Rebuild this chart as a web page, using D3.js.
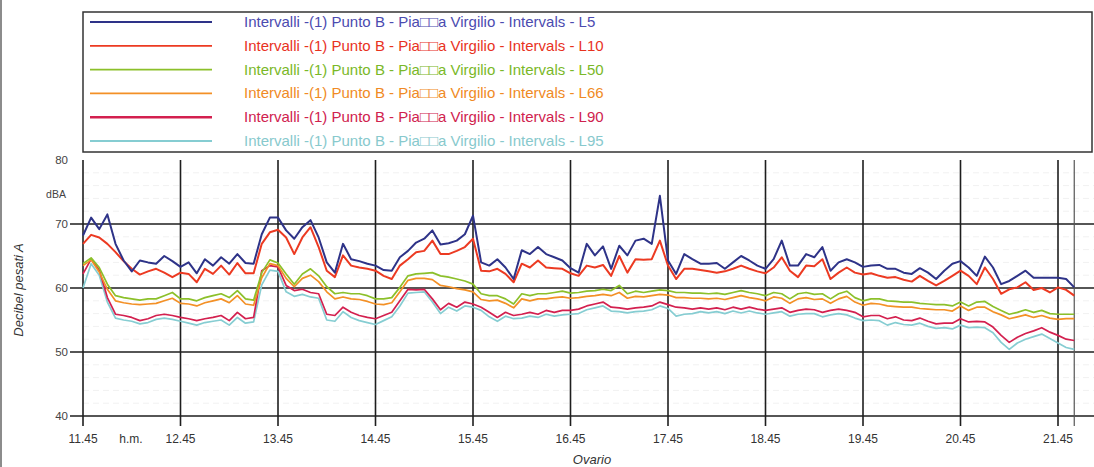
<!DOCTYPE html>
<html>
<head>
<meta charset="utf-8">
<script src="https://cdn.jsdelivr.net/npm/d3@7"></script>
<style>
  body { margin: 0; background: #fff; }
  svg { display: block; font-family: "Liberation Sans", Arial, sans-serif; }
</style>
</head>
<body>
<div id="chart"></div>
<script>
// Intervalli 5 minuti, Punto B - Piazza Virgilio
const startTime = "11.45";
const stepMinutes = 5;

const hourLabels = ["11.45", "12.45", "13.45", "14.45", "15.45", "16.45", "17.45", "18.45", "19.45", "20.45", "21.45"];
const yTicks = [40, 50, 60, 70, 80];

const seriesNames = ["L5", "L10", "L50", "L66", "L90", "L95"];
const seriesColors = ["#2e3388", "#ec3a22", "#8cc02a", "#f39026", "#d3204f", "#86cdd2"];
const textColors = ["#4b4bb0", "#e8321e", "#7ab828", "#f08a24", "#d0224e", "#88c9cd"];

const L5 = [68.2, 71.0, 69.2, 71.5, 66.9, 64.3, 62.6, 64.3, 64.0, 63.8, 65.0, 64.2, 63.3, 64.0, 62.3, 64.5, 63.5, 64.8, 63.8, 65.3, 63.9, 63.8, 68.4, 71.0, 71.0, 69.0, 67.7, 69.5, 70.6, 67.9, 64.0,
  62.4, 66.9, 64.5, 64.2, 63.8, 63.5, 62.8, 62.7, 64.8, 65.8, 67.1, 67.7, 69.0, 66.8, 67.0, 67.4, 68.4, 71.3, 64.0, 63.5, 64.5, 63.2, 61.4, 65.9, 65.3, 66.4, 65.3, 64.8, 64.3, 63.1,
  62.4, 66.9, 65.1, 66.5, 63.0, 66.6, 65.1, 67.4, 67.7, 66.9, 74.4, 64.3, 62.2, 65.3, 64.5, 63.8, 63.8, 63.9, 63.0, 64.0, 65.0, 64.3, 63.5, 63.0, 64.5, 67.4, 63.5, 63.5, 65.3, 64.8,
  66.4, 62.7, 64.0, 64.5, 64.0, 63.3, 63.5, 63.6, 63.0, 63.0, 62.4, 62.2, 63.1, 62.4, 61.4, 62.7, 63.8, 64.2, 63.2, 61.9, 64.9, 63.2, 60.6, 61.1, 61.9, 62.7, 61.6, 61.6, 61.6, 61.6, 61.4, 60.1];

const L10 = [66.9, 68.3, 67.9, 66.9, 65.6, 64.2, 63.0, 62.1, 62.6, 63.0, 62.4, 61.7, 62.4, 62.2, 60.9, 63.0, 62.2, 63.5, 62.1, 63.9, 62.3, 62.3, 66.9, 68.7, 69.1, 67.9, 65.3, 67.9, 69.5, 66.4, 62.7,
  61.7, 65.1, 63.5, 63.2, 63.0, 62.7, 61.9, 61.4, 63.5, 64.5, 65.6, 65.8, 67.4, 65.3, 65.3, 65.8, 66.4, 67.7, 62.7, 62.6, 63.0, 62.2, 60.9, 63.8, 63.2, 64.3, 63.2, 63.1, 63.0, 62.3,
  61.9, 63.5, 63.2, 63.6, 61.9, 65.0, 62.4, 64.5, 64.4, 64.5, 67.4, 63.5, 61.4, 63.0, 63.0, 62.8, 62.6, 62.4, 62.6, 63.0, 63.5, 63.0, 62.6, 62.3, 63.2, 64.8, 62.7, 61.7, 63.5, 63.4,
  64.5, 61.4, 62.4, 63.2, 62.4, 62.1, 62.3, 61.9, 61.6, 61.7, 61.3, 61.0, 61.9, 61.1, 60.4, 61.1, 61.9, 62.7, 61.9, 60.6, 63.2, 61.4, 59.1, 59.8, 60.1, 60.9, 59.7, 60.0, 59.3, 60.1, 59.7, 58.8];

const L50 = [63.8, 64.7, 63.2, 60.6, 58.8, 58.5, 58.3, 58.1, 58.3, 58.3, 58.8, 59.3, 58.3, 58.3, 58.0, 58.5, 58.8, 59.1, 58.5, 59.6, 58.3, 58.1, 62.4, 64.4, 63.9, 62.2, 60.6, 62.2, 63.0, 61.9, 60.2,
  59.1, 59.3, 59.1, 59.1, 58.8, 58.3, 58.3, 58.5, 60.1, 61.9, 62.2, 62.3, 62.4, 61.9, 61.7, 61.4, 61.1, 60.6, 59.1, 58.8, 58.8, 58.3, 57.5, 59.1, 58.8, 59.1, 59.1, 59.3, 59.5, 59.2,
  59.3, 59.5, 59.6, 59.8, 59.6, 60.4, 59.1, 59.5, 59.3, 59.5, 59.7, 59.6, 59.3, 59.3, 59.2, 59.2, 59.1, 59.2, 59.0, 59.3, 59.6, 59.3, 59.1, 58.8, 59.3, 59.1, 58.3, 59.1, 59.3, 59.0,
  59.1, 58.3, 59.1, 59.5, 58.5, 58.0, 58.3, 58.3, 58.0, 57.9, 57.8, 57.8, 57.6, 57.5, 57.4, 57.4, 57.2, 57.8, 57.2, 57.8, 57.9, 57.1, 56.5, 55.9, 56.2, 56.6, 56.2, 56.5, 56.0, 55.9, 55.9, 55.9];

const L66 = [63.5, 64.4, 62.5, 59.8, 58.0, 57.7, 57.5, 57.4, 57.5, 57.6, 58.0, 58.4, 57.6, 57.5, 57.2, 57.7, 58.0, 58.3, 57.7, 58.8, 57.5, 57.3, 61.6, 63.8, 63.5, 61.5, 60.2, 61.5, 62.0, 61.0, 59.4,
  58.3, 58.6, 58.3, 58.2, 57.9, 57.5, 57.4, 57.7, 59.4, 61.2, 61.5, 61.5, 61.3, 60.4, 60.2, 59.9, 59.7, 59.4, 58.2, 58.0, 58.1, 57.6, 56.9, 58.3, 58.0, 58.3, 58.3, 58.5, 58.6, 58.4,
  58.5, 58.7, 58.8, 59.0, 58.8, 59.3, 58.4, 58.7, 58.6, 58.8, 59.0, 58.9, 58.5, 58.5, 58.4, 58.4, 58.3, 58.4, 58.2, 58.5, 58.8, 58.5, 58.3, 58.0, 58.6, 58.4, 57.6, 58.3, 58.5, 58.2,
  58.3, 57.6, 58.3, 58.7, 57.8, 57.3, 57.6, 57.5, 57.2, 57.1, 57.0, 57.0, 56.8, 56.7, 56.6, 56.6, 56.4, 57.2, 56.5, 57.0, 57.0, 56.3, 55.8, 55.2, 55.5, 55.8, 55.4, 55.7, 55.3, 55.1, 55.2, 55.2];

const L90 = [62.2, 64.5, 62.8, 58.5, 55.9, 55.7, 55.4, 54.9, 55.2, 55.7, 55.9, 55.7, 55.4, 55.2, 54.9, 55.2, 55.4, 55.7, 54.9, 56.2, 55.2, 55.4, 62.7, 63.5, 63.3, 60.4, 59.6, 59.8, 59.3, 59.1, 55.9,
  55.7, 57.0, 56.2, 55.7, 55.4, 55.2, 55.7, 56.2, 58.0, 59.8, 59.7, 59.8, 58.3, 56.6, 57.6, 57.0, 57.8, 57.5, 57.0, 56.2, 55.4, 56.2, 55.7, 55.9, 56.2, 55.9, 56.5, 56.2, 56.5, 56.5,
  56.7, 57.2, 57.5, 57.8, 57.0, 56.9, 56.7, 56.9, 57.0, 57.2, 57.8, 57.4, 57.0, 56.9, 56.7, 56.9, 56.7, 56.9, 56.6, 57.0, 56.7, 57.0, 56.7, 56.5, 56.7, 56.9, 56.2, 56.5, 56.7, 56.6,
  56.2, 56.5, 56.7, 56.5, 56.2, 55.5, 55.7, 55.7, 55.2, 55.5, 55.0, 54.9, 55.3, 54.8, 54.4, 54.5, 54.5, 55.2, 54.7, 54.8, 54.7, 53.9, 52.6, 51.5, 52.3, 52.9, 53.3, 53.8, 53.1, 52.6, 52.0, 51.8];

const L95 = [60.0, 63.8, 62.0, 57.8, 55.3, 55.0, 54.8, 54.4, 54.6, 55.1, 55.3, 55.1, 54.8, 54.5, 54.2, 54.6, 54.8, 55.0, 54.2, 55.4, 54.5, 54.7, 60.5, 62.8, 62.6, 59.4, 58.7, 59.0, 58.6, 58.4, 55.0,
  54.8, 56.3, 55.4, 54.9, 54.6, 54.3, 54.9, 55.5, 57.2, 59.2, 59.3, 59.4, 57.8, 56.0, 57.0, 56.4, 57.2, 57.0, 56.5, 55.5, 54.8, 55.6, 55.2, 55.3, 55.6, 55.4, 55.9, 55.6, 55.8, 55.9,
  56.0, 56.6, 56.9, 57.2, 56.4, 56.3, 56.1, 56.3, 56.4, 56.6, 57.2, 56.8, 55.6, 55.9, 56.0, 56.3, 56.1, 56.3, 56.0, 56.4, 56.1, 56.4, 56.1, 55.9, 56.1, 56.3, 55.6, 55.9, 56.0, 56.0,
  55.5, 55.8, 56.0, 55.8, 55.3, 54.9, 55.0, 54.9, 54.2, 54.6, 54.3, 54.2, 54.5, 54.0, 53.7, 53.8, 53.6, 54.2, 53.8, 53.9, 53.8, 53.0, 51.5, 50.4, 51.4, 52.0, 52.4, 52.8, 52.1, 51.4, 50.7, 50.4];

const seriesValues = [L5, L10, L50, L66, L90, L95];

const width = 1094;
const height = 467;

const svg = d3.select("#chart").append("svg")
    .attr("width", width)
    .attr("height", height);

svg.append("rect").attr("width", width).attr("height", height).attr("fill", "#fff");

// left page edge
svg.append("line")
    .attr("x1", 1).attr("x2", 1).attr("y1", 0).attr("y2", height)
    .attr("stroke", "#666").attr("stroke-width", 1.5);

// scales: minutes from 11.45
const x = d3.scaleLinear().domain([0, 600]).range([83, 1058]);
const y = d3.scaleLinear().domain([40, 80]).range([416, 160]);

// faint minor grid every 2 dB
const minor = d3.range(42, 80, 2).filter(v => v % 10 !== 0);
svg.append("g").selectAll("line")
    .data(minor)
    .join("line")
    .attr("x1", 83).attr("x2", width)
    .attr("y1", d => y(d)).attr("y2", d => y(d))
    .attr("stroke", "#f1f1f1")
    .attr("stroke-dasharray", "6,4")
    .attr("stroke-width", 1);

// major horizontal grid (no line at 80)
svg.append("g").selectAll("line")
    .data(yTicks.filter(v => v < 80))
    .join("line")
    .attr("x1", 70).attr("x2", width)
    .attr("y1", d => y(d)).attr("y2", d => y(d))
    .attr("stroke", "#1e1e1e")
    .attr("stroke-width", 1.6);

// vertical hour lines
svg.append("g").selectAll("line")
    .data(hourLabels)
    .join("line")
    .attr("x1", (d, i) => x(i * 60)).attr("x2", (d, i) => x(i * 60))
    .attr("y1", 160).attr("y2", 426)
    .attr("stroke", "#1e1e1e")
    .attr("stroke-width", 1.6);

// end of measurement line
const lastMinute = (L5.length - 1) * stepMinutes;
svg.append("line")
    .attr("x1", x(lastMinute)).attr("x2", x(lastMinute))
    .attr("y1", 160).attr("y2", 426)
    .attr("stroke", "#555")
    .attr("stroke-width", 1.2);

// y tick labels
svg.append("g").selectAll("text")
    .data(yTicks)
    .join("text")
    .attr("x", 68)
    .attr("y", d => y(d) + 4)
    .attr("text-anchor", "end")
    .attr("font-size", "11.5px")
    .attr("fill", "#444")
    .text(d => d);

svg.append("text")
    .attr("x", 56).attr("y", 198)
    .attr("text-anchor", "middle")
    .attr("font-size", "10.5px")
    .attr("fill", "#444")
    .text("dBA");

svg.append("text")
    .attr("transform", "translate(23,290) rotate(-90)")
    .attr("text-anchor", "middle")
    .attr("font-size", "13px")
    .attr("font-style", "italic")
    .attr("fill", "#333")
    .text("Decibel pesati A");

// x tick labels
svg.append("g").selectAll("text")
    .data(hourLabels)
    .join("text")
    .attr("x", (d, i) => x(i * 60))
    .attr("y", 443)
    .attr("text-anchor", "middle")
    .attr("font-size", "12px")
    .attr("fill", "#333")
    .text(d => d);

svg.append("text")
    .attr("x", 131).attr("y", 443)
    .attr("text-anchor", "middle")
    .attr("font-size", "12px")
    .attr("fill", "#333")
    .text("h.m.");

svg.append("text")
    .attr("x", 592).attr("y", 464)
    .attr("text-anchor", "middle")
    .attr("font-size", "13px")
    .attr("font-style", "italic")
    .attr("fill", "#333")
    .text("Ovario");

// series lines, L95 first so L5 ends up on top
const line = d3.line()
    .x((d, i) => x(i * stepMinutes))
    .y(d => y(d));

const order = d3.range(seriesValues.length).reverse();
svg.append("g").selectAll("path")
    .data(order)
    .join("path")
    .attr("d", k => line(seriesValues[k]))
    .attr("fill", "none")
    .attr("stroke", k => seriesColors[k])
    .attr("stroke-width", k => k < 2 ? 2 : 1.7)
    .attr("stroke-linejoin", "round");

// legend
const legend = svg.append("g");
legend.append("rect")
    .attr("x", 83).attr("y", 12)
    .attr("width", 1009).attr("height", 140)
    .attr("fill", "none")
    .attr("stroke", "#333")
    .attr("stroke-width", 1.5);

seriesNames.forEach((name, k) => {
    const ly = 22 + k * 23.8;
    legend.append("line")
        .attr("x1", 90).attr("x2", 212)
        .attr("y1", ly).attr("y2", ly)
        .attr("stroke", seriesColors[k])
        .attr("stroke-width", k === 4 ? 2.6 : 1.8);
    legend.append("text")
        .attr("x", 244).attr("y", ly + 5)
        .attr("font-size", "15px")
        .attr("fill", textColors[k])
        .text("Intervalli -(1) Punto B - Pia\u25A1\u25A1a Virgilio - Intervals - " + name);
});
</script>
</body>
</html>
